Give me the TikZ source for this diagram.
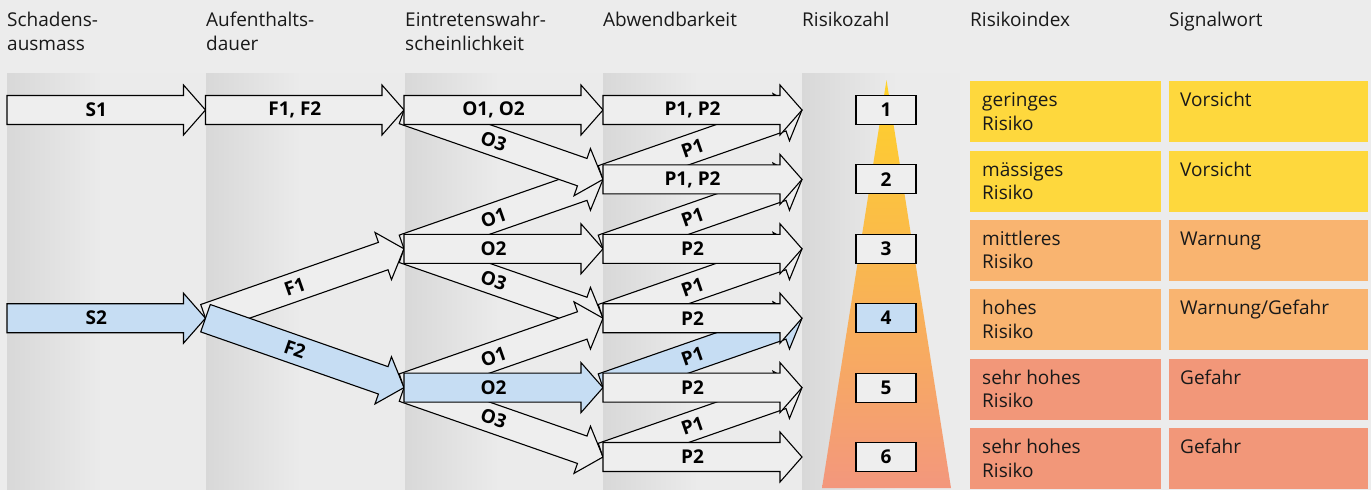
\documentclass[tikz,border=0pt]{standalone}
\usepackage{fontspec}
\setmainfont{Open Sans}
\usetikzlibrary{calc}
\definecolor{bg}{HTML}{ECECEC}
\definecolor{pdark}{HTML}{D8D8D8}
\definecolor{plight}{HTML}{EBEBEB}
\definecolor{afill}{HTML}{EEEEEE}
\definecolor{hl}{HTML}{C6DDF3}
\definecolor{ylw}{HTML}{FED83D}
\definecolor{org}{HTML}{F9B470}
\definecolor{slm}{HTML}{F29779}
\definecolor{tritop}{HTML}{FFD229}
\definecolor{trimid}{HTML}{F9B866}
\definecolor{tribot}{HTML}{F3977D}
\newcommand\bigarr[4][afill]{%
  \coordinate (hb) at ($(#3)!22pt!(#2)$);
  \filldraw[arr, fill=#1] ($(#2)!14.5pt!90:(#3)$) -- ($(hb)!14.5pt!90:(#3)$) -- ($(hb)!25pt!90:(#3)$) -- (#3) -- ($(hb)!25pt!-90:(#3)$) -- ($(hb)!14.5pt!-90:(#3)$) -- ($(#2)!14.5pt!-90:(#3)$) -- cycle;
  \path (#2) -- (#3) node[lab, pos=0.45, sloped] {#4};
}
\begin{document}
\begin{tikzpicture}[x=1pt,y=-1pt,
  arr/.style={draw=black, line width=1.1pt, line join=miter},
  lab/.style={font=\fontsize{19}{22}\selectfont\bfseries, inner sep=0pt},
  txt/.style={font=\fontsize{19}{23.3}\selectfont, align=left, inner sep=0pt, text=black!90},
  rbox/.style={draw=black, line width=1.1pt, fill=afill, minimum width=60pt, minimum height=29pt, inner sep=0pt, font=\fontsize{19}{22}\selectfont\bfseries},
  ibox/.style={anchor=north west, minimum width=191pt, minimum height=61pt, inner sep=0pt},
  sbox/.style={anchor=north west, minimum width=199pt, minimum height=61pt, inner sep=0pt}]
\fill[bg] (0,0) rectangle (1371,490);
\useasboundingbox (0,0) rectangle (1371,490);
% panels
\foreach \x in {7,206,404,603,802}{
  \shade[left color=pdark, right color=plight] (\x,73) rectangle (\x+95,490);
  \fill[plight] (\x+95,73) rectangle (\x+158,490);
}
\foreach \x in {7,206,404,603}{
  \fill[plight] (\x+158,73) rectangle (\x+199,490);
}
% headers (base anchor = last line)
\node[txt, anchor=base west] (h1) at (7,50) {Schadens-\\ausmass};
\node[txt, anchor=base west] (h2) at (206,50) {Aufenthalts-\\dauer};
\node[txt, anchor=base west] (h3) at (405,50) {Eintretenswahr-\\scheinlichkeit};
\node[txt, anchor=base west] (h4) at (603,26.7) {Abwendbarkeit};
\node[txt, anchor=base west] (h5) at (802,26.7) {Risikozahl};
\node[txt, anchor=base west] (h6) at (970,26.7) {Risikoindex};
\node[txt, anchor=base west] (h7) at (1169,26.7) {Signalwort};
% grid coordinates
\foreach \r/\y in {1/110,2/179.4,3/248.8,4/318.2,5/387.6,6/457}{
  \foreach \c/\x in {a/7,b/205.5,c/404,d/603,e/802}{
    \coordinate (\c\r) at (\x,\y);
  }
}
% triangle
\shade[top color=tritop, middle color=trimid, bottom color=tribot] (886.5,80) -- (951,488) -- (822,488) -- cycle;
% column S
\bigarr{a1}{b1}{S1}
\bigarr[hl]{a4}{b4}{S2}
% column F
\bigarr{b4}{c3}{F1}
\bigarr[hl]{b4}{c5}{F2}
\bigarr{b1}{c1}{F1, F2}
% column O
\bigarr{c3}{d2}{O1}
\bigarr{c1}{d2}{O3}
\bigarr{c3}{d4}{O3}
\bigarr{c5}{d4}{O1}
\bigarr{c5}{d6}{O3}
\bigarr{c1}{d1}{O1, O2}
\bigarr{c3}{d3}{O2}
\bigarr[hl]{c5}{d5}{O2}
% column P
\bigarr{d2}{e1}{P1}
\bigarr{d3}{e2}{P1}
\bigarr{d4}{e3}{P1}
\bigarr[hl]{d5}{e4}{P1}
\bigarr{d6}{e5}{P1}
\bigarr{d1}{e1}{P1, P2}
\bigarr{d2}{e2}{P1, P2}
\bigarr{d3}{e3}{P2}
\bigarr{d4}{e4}{P2}
\bigarr{d5}{e5}{P2}
\bigarr{d6}{e6}{P2}
% risk numbers
\node[rbox] (z1) at (886,110) {1};
\node[rbox] (z2) at (886,179.4) {2};
\node[rbox] (z3) at (886,248.8) {3};
\node[rbox, fill=hl] (z4) at (886,318.2) {4};
\node[rbox] (z5) at (886,387.6) {5};
\node[rbox] (z6) at (886,457) {6};
% index boxes
\node[ibox, fill=ylw] (i1) at (970,81) {};
\node[ibox, fill=ylw] (i2) at (970,150.4) {};
\node[ibox, fill=org] (i3) at (970,219.8) {};
\node[ibox, fill=org] (i4) at (970,289.2) {};
\node[ibox, fill=slm] (i5) at (970,358.6) {};
\node[ibox, fill=slm] (i6) at (970,428) {};
\node[sbox, fill=ylw] (s1) at (1169,81) {};
\node[sbox, fill=ylw] (s2) at (1169,150.4) {};
\node[sbox, fill=org] (s3) at (1169,219.8) {};
\node[sbox, fill=org] (s4) at (1169,289.2) {};
\node[sbox, fill=slm] (s5) at (1169,358.6) {};
\node[sbox, fill=slm] (s6) at (1169,428) {};
\node[txt, anchor=base west] (ti1) at ($(i1.north west)+(12,49)$) {geringes\\Risiko};
\node[txt, anchor=base west] (ti2) at ($(i2.north west)+(12,49)$) {mässiges\\Risiko};
\node[txt, anchor=base west] (ti3) at ($(i3.north west)+(12,49)$) {mittleres\\Risiko};
\node[txt, anchor=base west] (ti4) at ($(i4.north west)+(12,49)$) {hohes\\Risiko};
\node[txt, anchor=base west] (ti5) at ($(i5.north west)+(12,49)$) {sehr hohes\\Risiko};
\node[txt, anchor=base west] (ti6) at ($(i6.north west)+(12,49)$) {sehr hohes\\Risiko};
\node[txt, anchor=base west] (ts1) at ($(s1.north west)+(11,25.7)$) {Vorsicht};
\node[txt, anchor=base west] (ts2) at ($(s2.north west)+(11,25.7)$) {Vorsicht};
\node[txt, anchor=base west] (ts3) at ($(s3.north west)+(11,25.7)$) {Warnung};
\node[txt, anchor=base west] (ts4) at ($(s4.north west)+(11,25.7)$) {Warnung/Gefahr};
\node[txt, anchor=base west] (ts5) at ($(s5.north west)+(11,25.7)$) {Gefahr};
\node[txt, anchor=base west] (ts6) at ($(s6.north west)+(11,25.7)$) {Gefahr};
\end{tikzpicture}
\end{document}
